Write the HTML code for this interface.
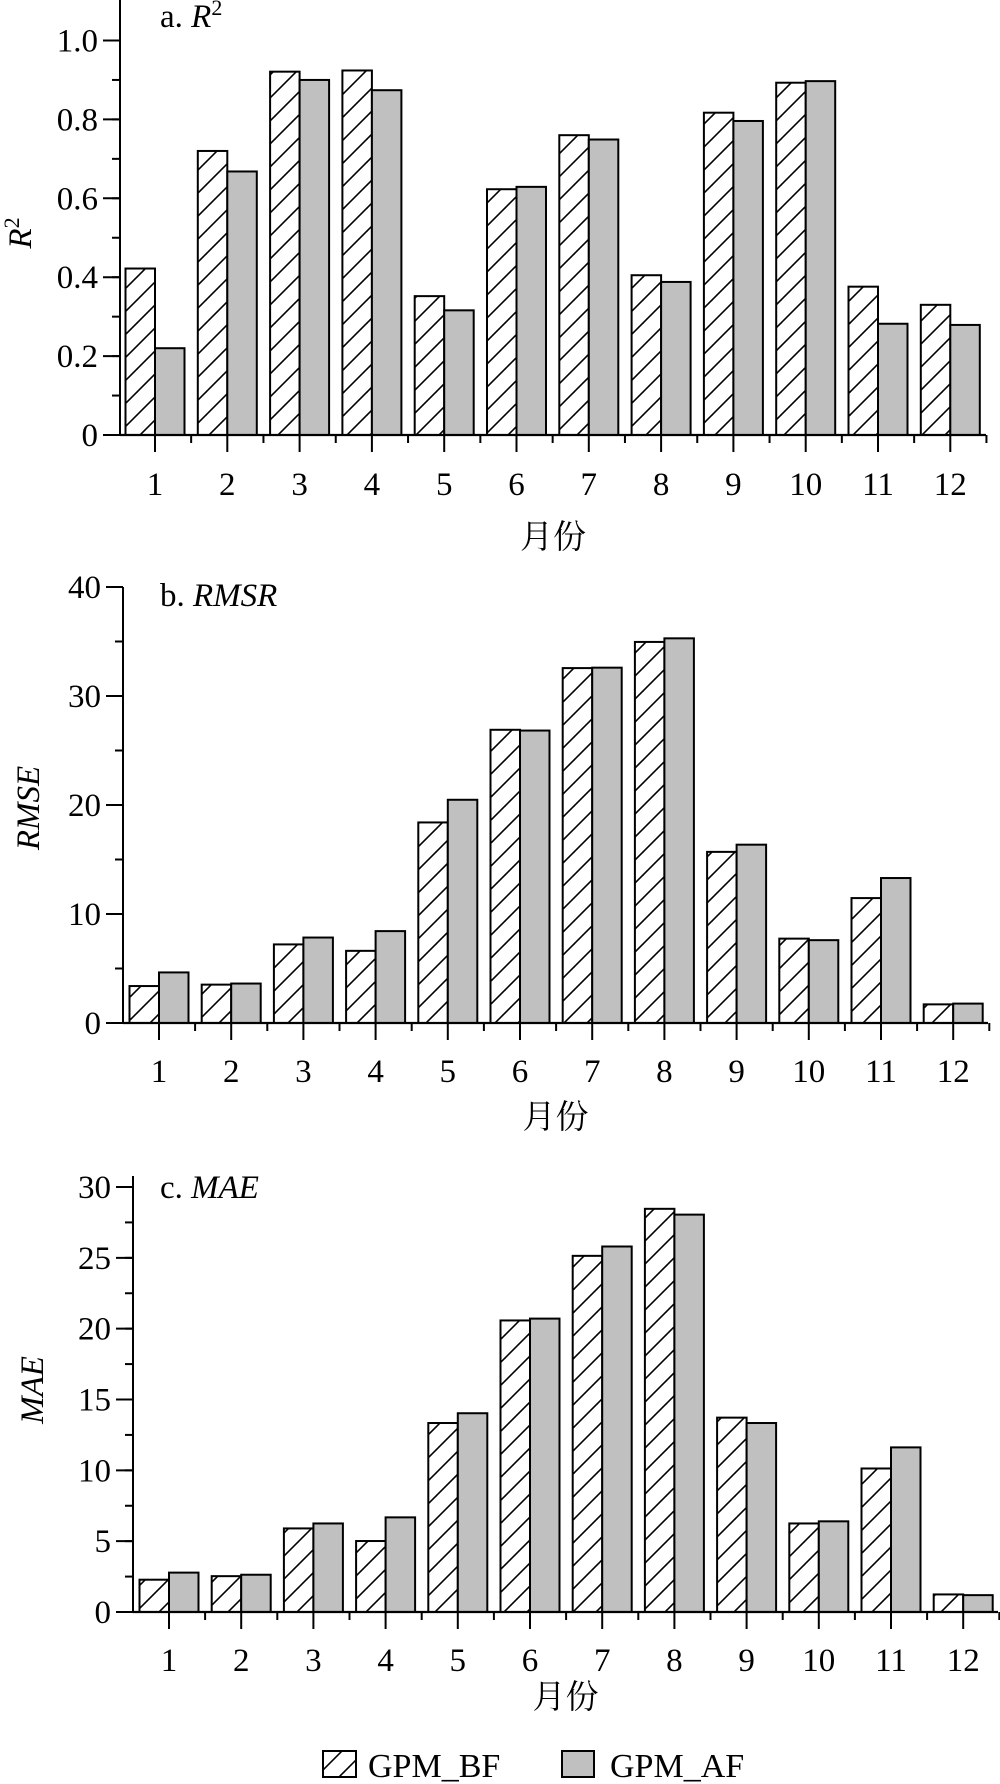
<!DOCTYPE html>
<html><head><meta charset="utf-8"><title>GPM monthly metrics</title>
<style>
html,body{margin:0;padding:0;background:#fff;}
svg{display:block;}
text{font-family:"Liberation Serif","Noto Serif CJK SC",serif;fill:#000;}
.cjk{font-family:"Noto Serif CJK SC","Liberation Serif",serif;}
</style></head>
<body>
<svg id="chart" width="1000" height="1784" viewBox="0 0 1000 1784" xmlns="http://www.w3.org/2000/svg">
<defs>
<pattern id="hatch" patternUnits="userSpaceOnUse" width="23" height="23" patternTransform="rotate(0)">
<line x1="0" y1="23" x2="23" y2="0" stroke="#000" stroke-width="1.6"/>
<line x1="-2" y1="2" x2="2" y2="-2" stroke="#000" stroke-width="1.6"/>
<line x1="21" y1="25" x2="25" y2="21" stroke="#000" stroke-width="1.6"/>
</pattern>
</defs>
<g id="panels"></g>
<g>
<rect x="323" y="1751" width="33" height="26" fill="url(#hatch)" stroke="#000" stroke-width="2"/>
<text x="368" y="1777" font-size="34">GPM_BF</text>
<rect x="562" y="1751" width="32" height="26" fill="#c0c0c0" stroke="#000" stroke-width="2"/>
<text x="610" y="1777" font-size="34">GPM_AF</text>
</g>
</svg>
<script>
const months = ["1","2","3","4","5","6","7","8","9","10","11","12"];
const r2BF = [0.422,0.72,0.921,0.924,0.352,0.623,0.76,0.405,0.817,0.893,0.376,0.33];
const r2AF = [0.220,0.668,0.90,0.874,0.316,0.629,0.749,0.388,0.796,0.897,0.282,0.279];
const rmseBF = [3.39,3.52,7.21,6.62,18.4,26.9,32.56,34.96,15.7,7.74,11.46,1.71];
const rmseAF = [4.64,3.62,7.84,8.43,20.48,26.83,32.6,35.29,16.36,7.6,13.3,1.78];
const maeBF = [2.28,2.53,5.9,5.01,13.34,20.58,25.14,28.46,13.72,6.25,10.13,1.24];
const maeAF = [2.78,2.63,6.25,6.68,14.03,20.71,25.8,28.05,13.34,6.4,11.62,1.19];
const r2Ticks = ["0","0.2","0.4","0.6","0.8","1.0"];
const rmseTicks = ["0","10","20","30","40"];
const maeTicks = ["0","5","10","15","20","25","30"];

const NS = "http://www.w3.org/2000/svg";
const root = document.getElementById("panels");
function mk(tag, attrs, parent){const e=document.createElementNS(NS,tag);for(const k in attrs)e.setAttribute(k,attrs[k]);(parent||root).appendChild(e);return e;}

const panels = [
 {key:"r2", bf:r2BF, af:r2AF, ticks:r2Ticks, minorStep:0.1, ax:120, c1:155, step:72.3, xEnd:986, y0:435, yTopVal:1.0, yTopPix:40.5, axisTop:0,
  title:"a. ", titleIt:"R", titleSup:"2", titleY:27, ytitle:"R", ytitleSup:"2", ytx:20, yty:233, labY:495, xlabY:548},
 {key:"rmse", bf:rmseBF, af:rmseAF, ticks:rmseTicks, minorStep:5, ax:123, c1:159, step:72.2, xEnd:988, y0:1023, yTopVal:40, yTopPix:587, axisTop:587,
  title:"b. ", titleIt:"RMSR", titleY:606, ytitle:"RMSE", ytx:28, yty:808, labY:1082, xlabY:1128},
 {key:"mae", bf:maeBF, af:maeAF, ticks:maeTicks, minorStep:2.5, ax:133, c1:169, step:72.2, xEnd:998, y0:1612, yTopVal:30, yTopPix:1187, axisTop:1176,
  title:"c. ", titleIt:"MAE", titleY:1198, ytitle:"MAE", ytx:32, yty:1390, labY:1671, xlabY:1708}
];

panels.forEach(p=>{
  const g = mk("g",{});
  
  
  const yScale = v => p.y0 - (v/p.yTopVal)*(p.y0-p.yTopPix);
  const xScale = i => p.c1 + i*p.step;
  const bw = 29.5;
  // bars
  months.forEach((m,i)=>{
    const cx = xScale(i);
    const yb = yScale(p.bf[i]);
    const r1 = mk("rect",{x:cx-bw,y:yb,width:bw,height:p.y0-yb,fill:"url(#hatch)",stroke:"#000","stroke-width":2},g);
    
    
    const ya = yScale(p.af[i]);
    const r2 = mk("rect",{x:cx,y:ya,width:bw,height:p.y0-ya,fill:"#c0c0c0",stroke:"#000","stroke-width":2},g);
    
    
  });
  // axes
  const yAxis = mk("line",{x1:p.ax,y1:p.axisTop,x2:p.ax,y2:p.y0+1,stroke:"#000","stroke-width":2},g);
  
  
  const xAxis = mk("line",{x1:p.ax,y1:p.y0,x2:p.xEnd,y2:p.y0,stroke:"#000","stroke-width":2.2},g);
  
  
  // y ticks
  const maxV = parseFloat(p.ticks[p.ticks.length-1]);
  for(let v=0; v<=maxV+1e-9; v+=p.minorStep){
    const y=yScale(v);
    mk("line",{x1:p.ax-8,y1:y,x2:p.ax,y2:y,stroke:"#000","stroke-width":2},g);
  }
  p.ticks.forEach(t=>{
    const y=yScale(parseFloat(t));
    mk("line",{x1:p.ax-17,y1:y,x2:p.ax,y2:y,stroke:"#000","stroke-width":2},g);
    const tx=mk("text",{x:p.ax-22,y:y+11,"font-size":33,"text-anchor":"end"},g);
    tx.textContent=t;
    
    
  });
  // x ticks
  months.forEach((m,i)=>{
    const cx=xScale(i);
    mk("line",{x1:cx,y1:p.y0,x2:cx,y2:p.y0+17,stroke:"#000","stroke-width":2},g);
    mk("line",{x1:cx+p.step/2,y1:p.y0,x2:cx+p.step/2,y2:p.y0+8,stroke:"#000","stroke-width":2},g);
    const tx=mk("text",{x:cx,y:p.labY,"font-size":33,"text-anchor":"middle"},g);
    tx.textContent=m;
    
    
  });
  // x title
  const xl=mk("text",{x:(p.ax+p.xEnd)/2,y:p.xlabY,"font-size":33,"text-anchor":"middle","class":"cjk"},g);
  xl.textContent="月份";
  
  
  // panel title
  const tt=mk("text",{x:160,y:p.titleY,"font-size":33},g);
  
  
  const s1=mk("tspan",{},tt); s1.textContent=p.title;
  const s2=mk("tspan",{"font-style":"italic"},tt); s2.textContent=p.titleIt;
  if(p.titleSup){const s3=mk("tspan",{"font-size":22,dy:-12},tt); s3.textContent=p.titleSup;}
  // y title
  const yt=mk("text",{x:0,y:0,"font-size":33,"text-anchor":"middle",transform:`translate(${p.ytx+11},${p.yty}) rotate(-90)`},g);
  
  
  const a1=mk("tspan",{"font-style":"italic"},yt); a1.textContent=p.ytitle;
  if(p.ytitleSup){const a2=mk("tspan",{"font-size":22,dy:-12},yt); a2.textContent=p.ytitleSup;}
});
</script>
</body></html>
